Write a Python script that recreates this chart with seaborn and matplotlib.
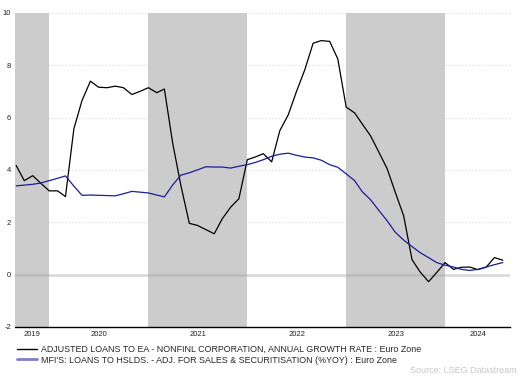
import numpy as np
import pandas as pd
import matplotlib
matplotlib.use("Agg")
import matplotlib.pyplot as plt
from matplotlib.lines import Line2D
import seaborn as sns

# ---- data (monthly, Sep 2019 - Aug 2024) ----
start_month = "2019-09-01"
n_months = 60
nfc_loans = [4.17, 3.59, 3.78, 3.49,
             3.20, 3.20, 2.98, 5.57, 6.65, 7.39, 7.16, 7.14, 7.20, 7.14, 6.88, 7.00,
             7.14, 6.95, 7.09, 5.00, 3.40, 1.96, 1.88, 1.72, 1.56, 2.14, 2.58, 2.90,
             4.39, 4.50, 4.62, 4.31, 5.50, 6.10, 6.98, 7.82, 8.84, 8.94, 8.91, 8.24,
             6.40, 6.18, 5.76, 5.30, 4.69, 4.05, 3.15, 2.25, 0.57, 0.10, -0.27, 0.08,
             0.46, 0.20, 0.28, 0.29, 0.19, 0.29, 0.65, 0.55]
hh_loans = [3.39, 3.42, 3.45, 3.50,
            3.59, 3.68, 3.77, 3.38, 3.03, 3.04, 3.03, 3.02, 3.01, 3.09, 3.18, 3.15,
            3.12, 3.04, 2.97, 3.43, 3.80, 3.89, 4.00, 4.12, 4.11, 4.11, 4.07, 4.14,
            4.20, 4.29, 4.39, 4.52, 4.60, 4.64, 4.56, 4.49, 4.46, 4.37, 4.20, 4.10,
            3.85, 3.59, 3.17, 2.86, 2.46, 2.06, 1.62, 1.32, 1.07, 0.84, 0.65, 0.46,
            0.36, 0.29, 0.20, 0.16, 0.20, 0.29, 0.38, 0.46]
series_names = ["ADJUSTED LOANS TO EA - NONFINL CORPORATION, ANNUAL GROWTH RATE : Euro Zone",
                "MFI'S: LOANS TO HSLDS. - ADJ. FOR SALES & SECURITISATION (%YOY) : Euro Zone"]
y_ticks = [-2, 0, 2, 4, 6, 8, 10]
year_labels = ["2019", "2020", "2021", "2022", "2023", "2024"]
shaded_years = [2019, 2021, 2023]

dates = pd.date_range(start_month, periods=n_months, freq="MS")
df = pd.DataFrame({"date": np.concatenate([dates, dates]),
                   "value": nfc_loans + hh_loans,
                   "series": [series_names[0]] * n_months + [series_names[1]] * n_months})

sns.set_style("white")
plt.rcParams["font.family"] = ["Liberation Sans", "DejaVu Sans"]

fig = plt.figure(figsize=(5.2, 3.78), dpi=100)
ax = fig.add_axes([0.029, 0.135, 0.952, 0.831])

xmin = pd.Timestamp("2019-08-28")
xmax = pd.Timestamp("2024-08-28")

# grid (under the shaded bands)
for t in y_ticks:
    if t > 0:
        ax.axhline(t, color="#d8d8d8", lw=0.8, ls=(0, (1, 2)), zorder=0)

# shaded years
for yr in shaded_years:
    a = max(pd.Timestamp(f"{yr}-01-01"), xmin)
    b = min(pd.Timestamp(f"{yr + 1}-01-01"), xmax)
    ax.axvspan(a, b, color="#cccccc", lw=0, zorder=1)

ax.axhline(0, color="#a8a8a8", alpha=0.45, lw=1.8, zorder=2)

palette = {series_names[0]: "#000000", series_names[1]: "#1c1c9c"}
sns.lineplot(data=df, x="date", y="value", hue="series", palette=palette,
             lw=0.9, ax=ax, legend=False, zorder=3)

ax.set_xlim(xmin, xmax)
ax.set_ylim(-2, 10)
ax.set_yticks(y_ticks)
ax.set_yticklabels([str(t) for t in y_ticks])

# year labels centered on visible part of each year
tick_pos = []
for lab in year_labels:
    yr = int(lab)
    a = max(pd.Timestamp(f"{yr}-01-01"), xmin)
    b = min(pd.Timestamp(f"{yr + 1}-01-01"), xmax)
    tick_pos.append(a + (b - a) / 2)
ax.set_xticks(tick_pos)
ax.set_xticklabels(year_labels)

ax.tick_params(axis="both", length=0, labelsize=5.5, colors="#222222")
ax.tick_params(axis="y", pad=3)
ax.tick_params(axis="x", pad=3)
ax.set_xlabel("")
ax.set_ylabel("")
for s in ["top", "right", "left"]:
    ax.spines[s].set_visible(False)
ax.spines["bottom"].set_color("black")
ax.spines["bottom"].set_linewidth(1.0)

handles = [Line2D([], [], color="black", lw=1.0),
           Line2D([], [], color="#7f7fc4", lw=2.0)]
fig.legend(handles, series_names, loc="upper left", bbox_to_anchor=(0.033, 0.088),
           frameon=False, fontsize=6.4, handlelength=2.25, handletextpad=0.45,
           labelspacing=0.2, borderaxespad=0, borderpad=0)

fig.text(0.994, 0.021, "Source: LSEG Datastream", ha="right", va="center",
         fontsize=6.5, color="#c8c8c8")

fig.savefig("out.png", dpi=100)
